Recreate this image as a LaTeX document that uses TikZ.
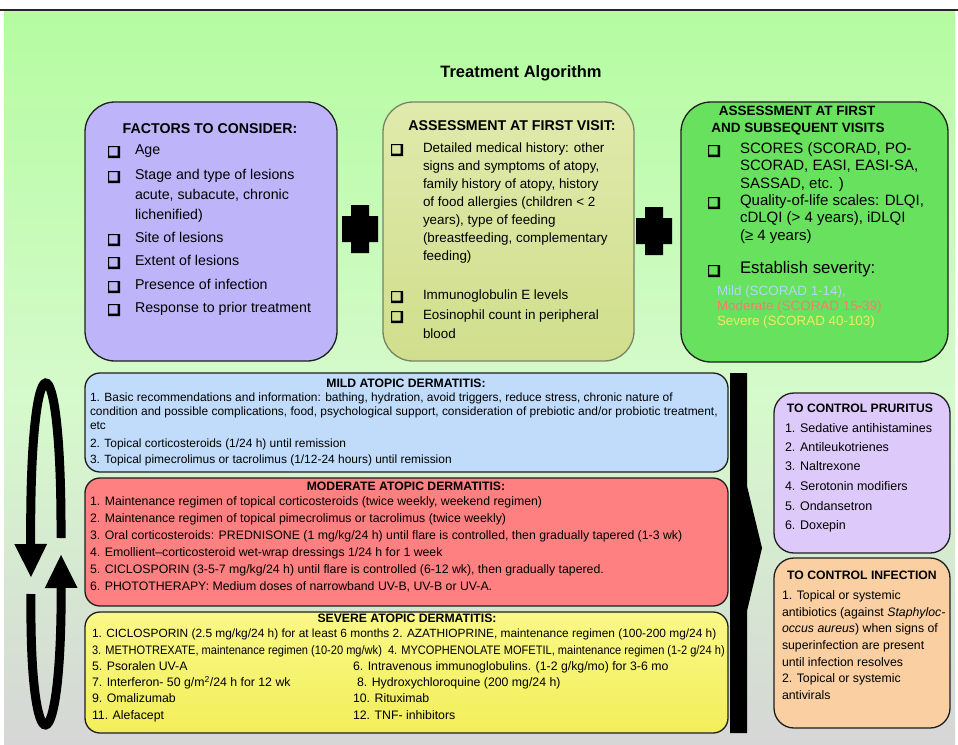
\documentclass[tikz,border=0pt]{standalone}
\usepackage{fontspec}
\setmainfont{Liberation Sans}
\usetikzlibrary{arrows.meta}
\definecolor{bgtop}{RGB}{180,252,160}
\definecolor{bgmid}{RGB}{214,250,204}
\definecolor{bgbot}{RGB}{214,214,214}
\definecolor{purp}{RGB}{190,180,250}
\definecolor{olivetop}{RGB}{224,234,172}
\definecolor{olivebot}{RGB}{208,222,140}
\definecolor{grn}{RGB}{104,226,94}
\definecolor{mildf}{RGB}{192,220,250}
\definecolor{modf}{RGB}{255,128,128}
\definecolor{sevtop}{RGB}{250,248,135}
\definecolor{sevbot}{RGB}{242,238,90}
\definecolor{prurf}{RGB}{222,202,250}
\definecolor{inff}{RGB}{250,207,162}
\definecolor{mildt}{RGB}{178,214,246}
\definecolor{modt}{RGB}{246,124,112}
\definecolor{sevt}{RGB}{238,236,96}
\definecolor{edge}{RGB}{30,30,30}
\definecolor{oliveedge}{RGB}{120,130,100}
\begin{document}
\begin{tikzpicture}[x=1pt,y=-1pt,
  box/.style={draw=edge,line width=1.3pt},
  t/.style={anchor=west,inner sep=0pt,outer sep=0pt,text height=.72em,text depth=.2em},
  tc/.style={anchor=center,inner sep=0pt,outer sep=0pt,text height=.72em,text depth=.2em},
  facf/.style={font=\fontsize{14.2}{17}\selectfont},
  olvf/.style={font=\fontsize{13.4}{17}\selectfont},
  grnf/.style={font=\fontsize{15}{17}\selectfont},
  sevf/.style={font=\fontsize{13.4}{15}\selectfont},
  lowf/.style={font=\fontsize{12.3}{15}\selectfont},
  mildfnt/.style={font=\fontsize{11.95}{15}\selectfont},
  hbig/.style={font=\bfseries\fontsize{14.2}{17}\selectfont},
  hsmall/.style={font=\bfseries\fontsize{12.2}{15}\selectfont},
  rf/.style={font=\fontsize{12.5}{15}\selectfont},
  cbox/.pic={\fill[black,even odd rule] (-6,-6) rectangle (6,6) (-4.8,-4.8) rectangle (3.6,3.6);},
  plussign/.pic={\fill[black] (-9,-24) -- (9,-24) -- (9,-13) -- (18,-13) -- (18,13) -- (9,13) -- (9,24) -- (-9,24) -- (-9,13) -- (-18,13) -- (-18,-13) -- (-9,-13) -- cycle;}
]
\useasboundingbox (0,0) rectangle (958,744);
% background
\fill[white] (0,0) rectangle (958,744);
\fill[top color=bgtop,bottom color=bgmid] (4,10) rectangle (955,400);
\fill[top color=bgmid,bottom color=bgbot] (4,400) rectangle (955,744);
\draw[line width=1.5pt,black!85] (0,10) -- (958,10);

% title
\node[tc,font=\bfseries\fontsize{16.5}{20}\selectfont] (title) at (521,75) {Treatment Algorithm};

% ---------- factors box
\draw[box,fill=purp,rounded corners=30pt] (85,102) rectangle (337,361);
\node[tc,hbig] (fh) at (210,131) {FACTORS TO CONSIDER:};
\foreach \yy in {152,177,240,263,287,310} {\pic at (114,\yy) {cbox};}
\node[t,facf] (f1) at (135,152) {Age};
\node[t,facf] (f2a) at (135,177) {Stage and type of lesions};
\node[t,facf] (f2b) at (135,197) {acute, subacute, chronic};
\node[t,facf] (f2c) at (135,217) {lichenified)};
\node[t,facf] (f3) at (135,240) {Site of lesions};
\node[t,facf] (f4) at (135,263) {Extent of lesions};
\node[t,facf] (f5) at (135,287) {Presence of infection};
\node[t,facf] (f6) at (135,310) {Response to prior treatment};

\pic at (360,229) {plussign};
\pic at (654,231) {plussign};

% ---------- first visit box
\draw[box,draw=oliveedge,top color=olivetop,bottom color=olivebot,rounded corners=30pt] (383,102) rectangle (634,361);
\node[tc,hbig] (oh) at (512,128) {ASSESSMENT AT FIRST VISIT:};
\foreach \yy in {150,297,317} {\pic at (397,\yy) {cbox};}
\node[t,olvf] (o1) at (423,150) {Detailed medical history: other};
\node[t,olvf] (o2) at (423,168) {signs and symptoms of atopy,};
\node[t,olvf] (o3) at (423,186) {family history of atopy, history};
\node[t,olvf] (o4) at (423,204) {of food allergies (children < 2};
\node[t,olvf] (o5) at (423,222) {years), type of feeding};
\node[t,olvf] (o6) at (423,240) {(breastfeeding, complementary};
\node[t,olvf] (o7) at (423,258) {feeding)};
\node[t,olvf] (o8) at (423,297) {Immunoglobulin E levels};
\node[t,olvf] (o9) at (423,317) {Eosinophil count in peripheral};
\node[t,olvf] (o10) at (423,336) {blood};

% ---------- subsequent visits box
\draw[box,fill=grn,rounded corners=30pt] (681,102) rectangle (948,362);
\node[tc,font=\bfseries\fontsize{13.5}{16}\selectfont] (gh1) at (797,113) {ASSESSMENT AT FIRST};
\node[tc,font=\bfseries\fontsize{13.5}{16}\selectfont] (gh2) at (798,130) {AND SUBSEQUENT VISITS};
\foreach \yy in {151,203,271} {\pic at (714,\yy) {cbox};}
\node[t,grnf] (g1) at (740,151) {SCORES (SCORAD, PO-};
\node[t,grnf] (g2) at (740,168) {SCORAD, EASI, EASI-SA,};
\node[t,grnf] (g3) at (740,186) {SASSAD, etc. )};
\node[t,grnf] (g4) at (740,203) {Quality-of-life scales: DLQI,};
\node[t,grnf] (g5) at (740,220) {cDLQI (> 4 years), iDLQI};
\node[t,grnf] (g6) at (740,238) {(≥ 4 years)};
\node[t,font=\fontsize{16.8}{19}\selectfont] (g7) at (740,271) {Establish severity:};
\node[t,sevf,text=mildt] (g8) at (717,293) {Mild (SCORAD 1-14),};
\node[t,sevf,text=modt] (g9) at (717,308) {Moderate (SCORAD 15-39)};
\node[t,sevf,text=sevt] (g10) at (717,323) {Severe (SCORAD 40-103)};

% ---------- loop arrows
\coordinate (la1) at (61,538);
\coordinate (la2) at (31,578);
\coordinate (lb1) at (31,594);
\coordinate (lb2) at (61,554);
\draw[line width=9pt,-{Triangle[width=30pt,length=34pt]}] (la1) .. controls (62,330) and (29,330) .. (la2);
\draw[line width=9pt,-{Triangle[width=30pt,length=34pt]}] (lb1) .. controls (29,770) and (62,770) .. (lb2);

% ---------- mild box
\draw[box,fill=mildf,rounded corners=15pt] (85,373) rectangle (728,472);
\node[tc,hsmall] (mh) at (406,385) {MILD ATOPIC DERMATITIS:};
\node[t,mildfnt] (m1) at (90,399) {1. Basic recommendations and information: bathing, hydration, avoid triggers, reduce stress, chronic nature of};
\node[t,mildfnt] (m2) at (90,413) {condition and possible complications, food, psychological support, consideration of prebiotic and/or probiotic treatment,};
\node[t,mildfnt] (m3) at (90,427) {etc};
\node[t,mildfnt] (m4) at (90,445) {2. Topical corticosteroids (1/24 h) until remission};
\node[t,mildfnt] (m5) at (90,461) {3. Topical pimecrolimus or tacrolimus (1/12-24 hours) until remission};

% ---------- moderate box
\draw[box,fill=modf,rounded corners=15pt] (85,478) rectangle (728,606);
\node[tc,hsmall] (dh) at (406,488) {MODERATE ATOPIC DERMATITIS:};
\node[t,lowf] (d1) at (90,503) {1. Maintenance regimen of topical corticosteroids (twice weekly, weekend regimen)};
\node[t,lowf] (d2) at (90,520) {2. Maintenance regimen of topical pimecrolimus or tacrolimus (twice weekly)};
\node[t,lowf] (d3) at (90,537) {3. Oral corticosteroids: PREDNISONE (1 mg/kg/24 h) until flare is controlled, then gradually tapered (1-3 wk)};
\node[t,lowf] (d4) at (90,554) {4. Emollient–corticosteroid wet-wrap dressings 1/24 h for 1 week};
\node[t,lowf] (d5) at (90,571) {5. CICLOSPORIN (3-5-7 mg/kg/24 h) until flare is controlled (6-12 wk), then gradually tapered.};
\node[t,lowf] (d6) at (90,588) {6. PHOTOTHERAPY: Medium doses of narrowband UV-B, UV-B or UV-A.};

% ---------- severe box
\draw[box,top color=sevtop,bottom color=sevbot,rounded corners=15pt] (85,612) rectangle (728,733);
\node[tc,hsmall] (sh) at (407,620) {SEVERE ATOPIC DERMATITIS:};
\node[t,font=\fontsize{11.9}{15}\selectfont] (s1) at (92,635) {1. CICLOSPORIN (2.5 mg/kg/24 h) for at least 6 months 2. AZATHIOPRINE, maintenance regimen (100-200 mg/24 h)};
\node[t,lowf] (s3) at (92,652) {\scalebox{0.9}[1]{3. METHOTREXATE, maintenance regimen (10-20 mg/wk)}};
\node[t,lowf] (s4) at (388,652) {\scalebox{0.9}[1]{4. MYCOPHENOLATE MOFETIL, maintenance regimen (1-2 g/24 h)}};
\node[t,lowf] (s5) at (92,668) {5. Psoralen UV-A};
\node[t,lowf] (s6) at (353,668) {6. Intravenous immunoglobulins. (1-2 g/kg/mo) for 3-6 mo};
\node[t,lowf] (s7) at (92,684) {7. Interferon- 50 g/m\textsuperscript{2}/24 h for 12 wk};
\node[t,lowf] (s8) at (357,684) {8. Hydroxychloroquine (200 mg/24 h)};
\node[t,lowf] (s9) at (92,700) {9. Omalizumab};
\node[t,lowf] (s10) at (353,700) {10. Rituximab};
\node[t,lowf] (s11) at (92,717) {11. Alefacept};
\node[t,lowf] (s12) at (353,717) {12. TNF- inhibitors};

% ---------- right arrow bar
\fill[black] (730,373) -- (747,373) -- (747,486) -- (762,548) -- (747,611) -- (747,733) -- (730,733) -- cycle;

% ---------- pruritus box
\draw[box,fill=prurf,rounded corners=20pt] (774,393) rectangle (950,553);
\node[tc,font=\bfseries\fontsize{12.2}{15}\selectfont] (ph) at (860,410) {TO CONTROL PRURITUS};
\node[t,rf] (p1) at (785,430) {1. Sedative antihistamines};
\node[t,rf] (p2) at (785,449) {2. Antileukotrienes};
\node[t,rf] (p3) at (785,468) {3. Naltrexone};
\node[t,rf] (p4) at (785,488) {4. Serotonin modifiers};
\node[t,rf] (p5) at (785,508) {5. Ondansetron};
\node[t,rf] (p6) at (785,527) {6. Doxepin};

% ---------- infection box
\draw[box,fill=inff,rounded corners=20pt] (774,558) rectangle (950,728);
\node[tc,font=\bfseries\fontsize{12.2}{15}\selectfont] (ih) at (862,577) {TO CONTROL INFECTION};
\node[t,lowf] (i1) at (782,597) {1. Topical or systemic};
\node[t,lowf] (i2) at (782,614) {antibiotics (against \textit{Staphyloc-}};
\node[t,lowf] (i3) at (782,630) {\textit{occus aureus}) when signs of};
\node[t,lowf] (i4) at (782,647) {superinfection are present};
\node[t,lowf] (i5) at (782,664) {until infection resolves};
\node[t,lowf] (i6) at (782,680) {2. Topical or systemic};
\node[t,lowf] (i7) at (782,697) {antivirals};
\end{tikzpicture}
\end{document}
